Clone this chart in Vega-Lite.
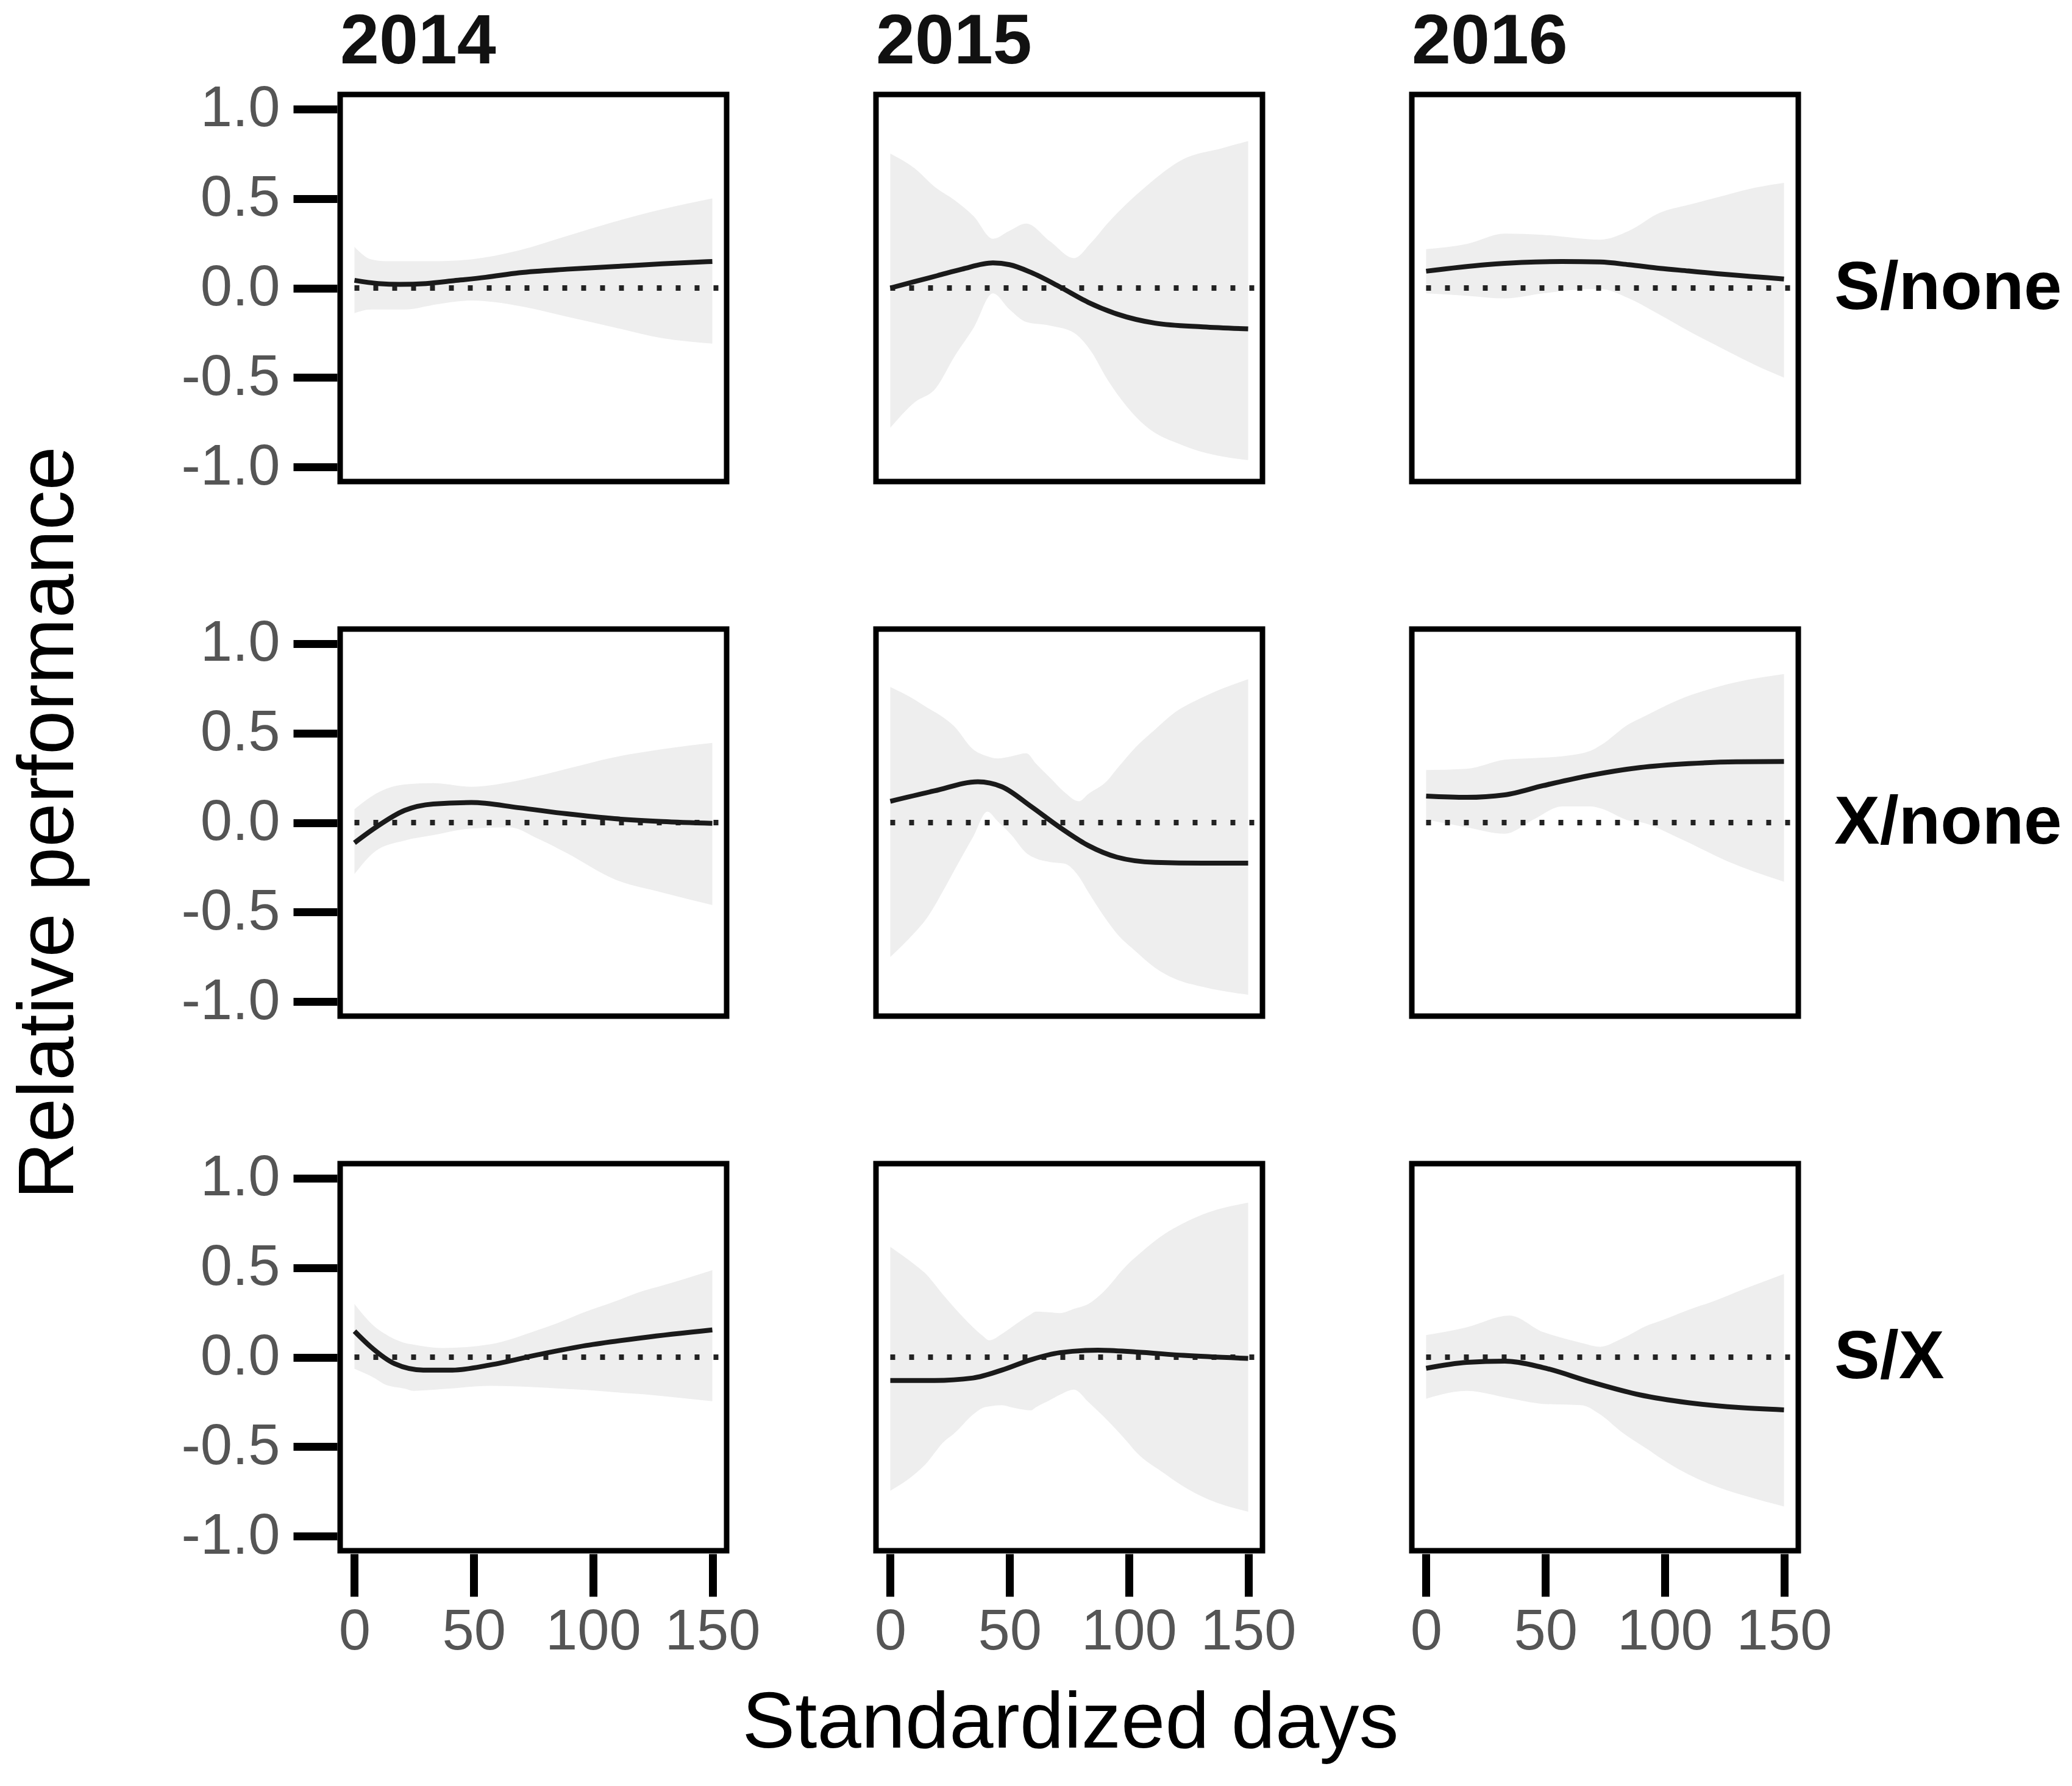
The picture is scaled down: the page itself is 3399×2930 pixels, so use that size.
{
  "$schema": "https://vega.github.io/schema/vega-lite/v6.json",
  "background": "white",
  "padding": {"left": 15, "top": 12, "right": 20, "bottom": 20},
  "data": {
    "values": [
      {"r": "S/none", "c": "2014", "x": 0, "lo": -0.14, "hi": 0.23},
      {"r": "S/none", "c": "2014", "x": 7, "lo": -0.12, "hi": 0.16},
      {"r": "S/none", "c": "2014", "x": 13, "lo": -0.12, "hi": 0.15},
      {"r": "S/none", "c": "2014", "x": 21, "lo": -0.12, "hi": 0.15},
      {"r": "S/none", "c": "2014", "x": 35, "lo": -0.09, "hi": 0.15},
      {"r": "S/none", "c": "2014", "x": 49, "lo": -0.07, "hi": 0.16},
      {"r": "S/none", "c": "2014", "x": 69, "lo": -0.10, "hi": 0.21},
      {"r": "S/none", "c": "2014", "x": 89, "lo": -0.16, "hi": 0.29},
      {"r": "S/none", "c": "2014", "x": 109, "lo": -0.22, "hi": 0.37},
      {"r": "S/none", "c": "2014", "x": 129, "lo": -0.28, "hi": 0.44},
      {"r": "S/none", "c": "2014", "x": 150, "lo": -0.31, "hi": 0.50},
      {"r": "S/none", "c": "2014", "x": 0, "y": 0.043},
      {"r": "S/none", "c": "2014", "x": 10, "y": 0.025},
      {"r": "S/none", "c": "2014", "x": 19, "y": 0.02},
      {"r": "S/none", "c": "2014", "x": 30, "y": 0.025},
      {"r": "S/none", "c": "2014", "x": 41, "y": 0.04},
      {"r": "S/none", "c": "2014", "x": 55, "y": 0.06},
      {"r": "S/none", "c": "2014", "x": 69, "y": 0.085},
      {"r": "S/none", "c": "2014", "x": 89, "y": 0.105},
      {"r": "S/none", "c": "2014", "x": 109, "y": 0.12},
      {"r": "S/none", "c": "2014", "x": 129, "y": 0.135},
      {"r": "S/none", "c": "2014", "x": 150, "y": 0.148},

      {"r": "S/none", "c": "2015", "x": 0, "lo": -0.78, "hi": 0.75},
      {"r": "S/none", "c": "2015", "x": 10, "lo": -0.64, "hi": 0.67},
      {"r": "S/none", "c": "2015", "x": 19, "lo": -0.56, "hi": 0.56},
      {"r": "S/none", "c": "2015", "x": 27, "lo": -0.38, "hi": 0.49},
      {"r": "S/none", "c": "2015", "x": 35, "lo": -0.22, "hi": 0.40},
      {"r": "S/none", "c": "2015", "x": 43, "lo": -0.03, "hi": 0.275},
      {"r": "S/none", "c": "2015", "x": 50, "lo": -0.12, "hi": 0.32},
      {"r": "S/none", "c": "2015", "x": 57, "lo": -0.19, "hi": 0.36},
      {"r": "S/none", "c": "2015", "x": 67, "lo": -0.21, "hi": 0.26},
      {"r": "S/none", "c": "2015", "x": 77, "lo": -0.25, "hi": 0.167},
      {"r": "S/none", "c": "2015", "x": 84, "lo": -0.35, "hi": 0.25},
      {"r": "S/none", "c": "2015", "x": 91, "lo": -0.51, "hi": 0.36},
      {"r": "S/none", "c": "2015", "x": 107, "lo": -0.77, "hi": 0.565},
      {"r": "S/none", "c": "2015", "x": 123, "lo": -0.88, "hi": 0.72},
      {"r": "S/none", "c": "2015", "x": 139, "lo": -0.94, "hi": 0.78},
      {"r": "S/none", "c": "2015", "x": 150, "lo": -0.96, "hi": 0.82},
      {"r": "S/none", "c": "2015", "x": 0, "y": 0.0},
      {"r": "S/none", "c": "2015", "x": 10, "y": 0.035},
      {"r": "S/none", "c": "2015", "x": 20, "y": 0.07},
      {"r": "S/none", "c": "2015", "x": 30, "y": 0.105},
      {"r": "S/none", "c": "2015", "x": 43, "y": 0.14},
      {"r": "S/none", "c": "2015", "x": 50, "y": 0.13},
      {"r": "S/none", "c": "2015", "x": 59, "y": 0.087},
      {"r": "S/none", "c": "2015", "x": 71, "y": 0.007},
      {"r": "S/none", "c": "2015", "x": 83, "y": -0.08},
      {"r": "S/none", "c": "2015", "x": 95, "y": -0.145},
      {"r": "S/none", "c": "2015", "x": 111, "y": -0.196},
      {"r": "S/none", "c": "2015", "x": 131, "y": -0.217},
      {"r": "S/none", "c": "2015", "x": 150, "y": -0.228},

      {"r": "S/none", "c": "2016", "x": 0, "lo": -0.03, "hi": 0.217},
      {"r": "S/none", "c": "2016", "x": 17, "lo": -0.043, "hi": 0.246},
      {"r": "S/none", "c": "2016", "x": 33, "lo": -0.058, "hi": 0.304},
      {"r": "S/none", "c": "2016", "x": 49, "lo": -0.03, "hi": 0.297},
      {"r": "S/none", "c": "2016", "x": 62, "lo": -0.01, "hi": 0.28},
      {"r": "S/none", "c": "2016", "x": 73, "lo": -0.005, "hi": 0.27},
      {"r": "S/none", "c": "2016", "x": 85, "lo": -0.058, "hi": 0.319},
      {"r": "S/none", "c": "2016", "x": 98, "lo": -0.15, "hi": 0.42},
      {"r": "S/none", "c": "2016", "x": 110, "lo": -0.24, "hi": 0.464},
      {"r": "S/none", "c": "2016", "x": 126, "lo": -0.35, "hi": 0.52},
      {"r": "S/none", "c": "2016", "x": 138, "lo": -0.43, "hi": 0.56},
      {"r": "S/none", "c": "2016", "x": 150, "lo": -0.5, "hi": 0.587},
      {"r": "S/none", "c": "2016", "x": 0, "y": 0.094},
      {"r": "S/none", "c": "2016", "x": 25, "y": 0.13},
      {"r": "S/none", "c": "2016", "x": 40, "y": 0.143},
      {"r": "S/none", "c": "2016", "x": 57, "y": 0.148},
      {"r": "S/none", "c": "2016", "x": 73, "y": 0.145},
      {"r": "S/none", "c": "2016", "x": 85, "y": 0.13},
      {"r": "S/none", "c": "2016", "x": 98, "y": 0.11},
      {"r": "S/none", "c": "2016", "x": 110, "y": 0.095},
      {"r": "S/none", "c": "2016", "x": 122, "y": 0.08},
      {"r": "S/none", "c": "2016", "x": 136, "y": 0.065},
      {"r": "S/none", "c": "2016", "x": 150, "y": 0.05},

      {"r": "X/none", "c": "2014", "x": 0, "lo": -0.287, "hi": 0.075},
      {"r": "X/none", "c": "2014", "x": 9, "lo": -0.157, "hi": 0.162},
      {"r": "X/none", "c": "2014", "x": 21, "lo": -0.10, "hi": 0.213},
      {"r": "X/none", "c": "2014", "x": 33, "lo": -0.07, "hi": 0.22},
      {"r": "X/none", "c": "2014", "x": 49, "lo": -0.033, "hi": 0.20},
      {"r": "X/none", "c": "2014", "x": 65, "lo": -0.026, "hi": 0.225},
      {"r": "X/none", "c": "2014", "x": 77, "lo": -0.09, "hi": 0.26},
      {"r": "X/none", "c": "2014", "x": 89, "lo": -0.17, "hi": 0.30},
      {"r": "X/none", "c": "2014", "x": 109, "lo": -0.316, "hi": 0.365},
      {"r": "X/none", "c": "2014", "x": 129, "lo": -0.39, "hi": 0.41},
      {"r": "X/none", "c": "2014", "x": 150, "lo": -0.46, "hi": 0.445},
      {"r": "X/none", "c": "2014", "x": 0, "y": -0.113},
      {"r": "X/none", "c": "2014", "x": 9, "y": -0.026},
      {"r": "X/none", "c": "2014", "x": 21, "y": 0.068},
      {"r": "X/none", "c": "2014", "x": 33, "y": 0.104},
      {"r": "X/none", "c": "2014", "x": 49, "y": 0.112},
      {"r": "X/none", "c": "2014", "x": 69, "y": 0.083},
      {"r": "X/none", "c": "2014", "x": 89, "y": 0.049},
      {"r": "X/none", "c": "2014", "x": 109, "y": 0.022},
      {"r": "X/none", "c": "2014", "x": 129, "y": 0.006},
      {"r": "X/none", "c": "2014", "x": 150, "y": -0.004},

      {"r": "X/none", "c": "2015", "x": 0, "lo": -0.75, "hi": 0.757},
      {"r": "X/none", "c": "2015", "x": 10.5, "lo": -0.61, "hi": 0.684},
      {"r": "X/none", "c": "2015", "x": 14.5, "lo": -0.548, "hi": 0.65},
      {"r": "X/none", "c": "2015", "x": 22.6, "lo": -0.37, "hi": 0.583},
      {"r": "X/none", "c": "2015", "x": 26.6, "lo": -0.272, "hi": 0.54},
      {"r": "X/none", "c": "2015", "x": 34.7, "lo": -0.08, "hi": 0.409},
      {"r": "X/none", "c": "2015", "x": 40.7, "lo": 0.061, "hi": 0.37},
      {"r": "X/none", "c": "2015", "x": 44.8, "lo": 0.01, "hi": 0.358},
      {"r": "X/none", "c": "2015", "x": 50.8, "lo": -0.07, "hi": 0.37},
      {"r": "X/none", "c": "2015", "x": 57, "lo": -0.17, "hi": 0.387},
      {"r": "X/none", "c": "2015", "x": 61, "lo": -0.2, "hi": 0.33},
      {"r": "X/none", "c": "2015", "x": 67, "lo": -0.22, "hi": 0.25},
      {"r": "X/none", "c": "2015", "x": 73, "lo": -0.229, "hi": 0.17},
      {"r": "X/none", "c": "2015", "x": 79, "lo": -0.30, "hi": 0.119},
      {"r": "X/none", "c": "2015", "x": 83, "lo": -0.388, "hi": 0.16},
      {"r": "X/none", "c": "2015", "x": 91, "lo": -0.55, "hi": 0.235},
      {"r": "X/none", "c": "2015", "x": 95, "lo": -0.62, "hi": 0.30},
      {"r": "X/none", "c": "2015", "x": 103, "lo": -0.72, "hi": 0.423},
      {"r": "X/none", "c": "2015", "x": 111, "lo": -0.81, "hi": 0.52},
      {"r": "X/none", "c": "2015", "x": 119, "lo": -0.87, "hi": 0.612},
      {"r": "X/none", "c": "2015", "x": 131, "lo": -0.917, "hi": 0.70},
      {"r": "X/none", "c": "2015", "x": 150, "lo": -0.961, "hi": 0.80},
      {"r": "X/none", "c": "2015", "x": 0, "y": 0.119},
      {"r": "X/none", "c": "2015", "x": 18.5, "y": 0.177},
      {"r": "X/none", "c": "2015", "x": 36.7, "y": 0.228},
      {"r": "X/none", "c": "2015", "x": 46.8, "y": 0.2},
      {"r": "X/none", "c": "2015", "x": 59, "y": 0.09},
      {"r": "X/none", "c": "2015", "x": 71, "y": -0.026},
      {"r": "X/none", "c": "2015", "x": 83, "y": -0.128},
      {"r": "X/none", "c": "2015", "x": 95, "y": -0.193},
      {"r": "X/none", "c": "2015", "x": 111, "y": -0.222},
      {"r": "X/none", "c": "2015", "x": 131, "y": -0.226},
      {"r": "X/none", "c": "2015", "x": 150, "y": -0.226},

      {"r": "X/none", "c": "2016", "x": 0, "lo": 0.017, "hi": 0.293},
      {"r": "X/none", "c": "2016", "x": 17, "lo": -0.026, "hi": 0.30},
      {"r": "X/none", "c": "2016", "x": 33, "lo": -0.062, "hi": 0.351},
      {"r": "X/none", "c": "2016", "x": 45, "lo": 0.017, "hi": 0.36},
      {"r": "X/none", "c": "2016", "x": 57, "lo": 0.09, "hi": 0.37},
      {"r": "X/none", "c": "2016", "x": 69, "lo": 0.09, "hi": 0.401},
      {"r": "X/none", "c": "2016", "x": 73, "lo": 0.08, "hi": 0.43},
      {"r": "X/none", "c": "2016", "x": 85.5, "lo": 0.01, "hi": 0.554},
      {"r": "X/none", "c": "2016", "x": 89.5, "lo": 0.003, "hi": 0.58},
      {"r": "X/none", "c": "2016", "x": 105.6, "lo": -0.084, "hi": 0.684},
      {"r": "X/none", "c": "2016", "x": 126, "lo": -0.214, "hi": 0.771},
      {"r": "X/none", "c": "2016", "x": 150, "lo": -0.33, "hi": 0.829},
      {"r": "X/none", "c": "2016", "x": 0, "y": 0.148},
      {"r": "X/none", "c": "2016", "x": 17, "y": 0.141},
      {"r": "X/none", "c": "2016", "x": 33, "y": 0.155},
      {"r": "X/none", "c": "2016", "x": 49, "y": 0.206},
      {"r": "X/none", "c": "2016", "x": 69, "y": 0.264},
      {"r": "X/none", "c": "2016", "x": 89.5, "y": 0.307},
      {"r": "X/none", "c": "2016", "x": 110, "y": 0.329},
      {"r": "X/none", "c": "2016", "x": 130, "y": 0.339},
      {"r": "X/none", "c": "2016", "x": 150, "y": 0.341},

      {"r": "S/X", "c": "2014", "x": 0, "lo": -0.065, "hi": 0.297},
      {"r": "S/X", "c": "2014", "x": 8.8, "lo": -0.12, "hi": 0.167},
      {"r": "S/X", "c": "2014", "x": 12.8, "lo": -0.152, "hi": 0.13},
      {"r": "S/X", "c": "2014", "x": 20.9, "lo": -0.175, "hi": 0.08},
      {"r": "S/X", "c": "2014", "x": 24.9, "lo": -0.188, "hi": 0.07},
      {"r": "S/X", "c": "2014", "x": 36.9, "lo": -0.178, "hi": 0.051},
      {"r": "S/X", "c": "2014", "x": 57, "lo": -0.16, "hi": 0.072},
      {"r": "S/X", "c": "2014", "x": 77, "lo": -0.168, "hi": 0.152},
      {"r": "S/X", "c": "2014", "x": 85, "lo": -0.174, "hi": 0.19},
      {"r": "S/X", "c": "2014", "x": 97, "lo": -0.183, "hi": 0.254},
      {"r": "S/X", "c": "2014", "x": 109, "lo": -0.196, "hi": 0.31},
      {"r": "S/X", "c": "2014", "x": 121, "lo": -0.207, "hi": 0.37},
      {"r": "S/X", "c": "2014", "x": 129, "lo": -0.217, "hi": 0.40},
      {"r": "S/X", "c": "2014", "x": 150, "lo": -0.246, "hi": 0.486},
      {"r": "S/X", "c": "2014", "x": 0, "y": 0.145},
      {"r": "S/X", "c": "2014", "x": 6.8, "y": 0.058},
      {"r": "S/X", "c": "2014", "x": 16.8, "y": -0.036},
      {"r": "S/X", "c": "2014", "x": 28.9, "y": -0.072},
      {"r": "S/X", "c": "2014", "x": 41, "y": -0.072},
      {"r": "S/X", "c": "2014", "x": 57, "y": -0.043},
      {"r": "S/X", "c": "2014", "x": 77, "y": 0.014},
      {"r": "S/X", "c": "2014", "x": 97, "y": 0.065},
      {"r": "S/X", "c": "2014", "x": 121, "y": 0.109},
      {"r": "S/X", "c": "2014", "x": 150, "y": 0.152},

      {"r": "S/X", "c": "2015", "x": 0, "lo": -0.746, "hi": 0.616},
      {"r": "S/X", "c": "2015", "x": 10.5, "lo": -0.65, "hi": 0.514},
      {"r": "S/X", "c": "2015", "x": 14.5, "lo": -0.601, "hi": 0.47},
      {"r": "S/X", "c": "2015", "x": 22.6, "lo": -0.47, "hi": 0.341},
      {"r": "S/X", "c": "2015", "x": 26.6, "lo": -0.428, "hi": 0.28},
      {"r": "S/X", "c": "2015", "x": 34.7, "lo": -0.32, "hi": 0.167},
      {"r": "S/X", "c": "2015", "x": 38.7, "lo": -0.283, "hi": 0.12},
      {"r": "S/X", "c": "2015", "x": 41.5, "lo": -0.275, "hi": 0.094},
      {"r": "S/X", "c": "2015", "x": 46.8, "lo": -0.268, "hi": 0.13},
      {"r": "S/X", "c": "2015", "x": 50.8, "lo": -0.28, "hi": 0.167},
      {"r": "S/X", "c": "2015", "x": 59, "lo": -0.297, "hi": 0.24},
      {"r": "S/X", "c": "2015", "x": 61, "lo": -0.28, "hi": 0.254},
      {"r": "S/X", "c": "2015", "x": 67, "lo": -0.239, "hi": 0.25},
      {"r": "S/X", "c": "2015", "x": 71, "lo": -0.21, "hi": 0.246},
      {"r": "S/X", "c": "2015", "x": 77, "lo": -0.181, "hi": 0.27},
      {"r": "S/X", "c": "2015", "x": 83, "lo": -0.25, "hi": 0.297},
      {"r": "S/X", "c": "2015", "x": 89, "lo": -0.326, "hi": 0.36},
      {"r": "S/X", "c": "2015", "x": 99.2, "lo": -0.47, "hi": 0.514},
      {"r": "S/X", "c": "2015", "x": 103, "lo": -0.529, "hi": 0.56},
      {"r": "S/X", "c": "2015", "x": 115, "lo": -0.65, "hi": 0.688},
      {"r": "S/X", "c": "2015", "x": 119, "lo": -0.688, "hi": 0.72},
      {"r": "S/X", "c": "2015", "x": 131, "lo": -0.78, "hi": 0.797},
      {"r": "S/X", "c": "2015", "x": 150, "lo": -0.862, "hi": 0.862},
      {"r": "S/X", "c": "2015", "x": 0, "y": -0.13},
      {"r": "S/X", "c": "2015", "x": 18.5, "y": -0.13},
      {"r": "S/X", "c": "2015", "x": 34.7, "y": -0.116},
      {"r": "S/X", "c": "2015", "x": 46.8, "y": -0.072},
      {"r": "S/X", "c": "2015", "x": 59, "y": -0.014},
      {"r": "S/X", "c": "2015", "x": 71, "y": 0.025},
      {"r": "S/X", "c": "2015", "x": 87, "y": 0.039},
      {"r": "S/X", "c": "2015", "x": 103, "y": 0.029},
      {"r": "S/X", "c": "2015", "x": 123, "y": 0.01},
      {"r": "S/X", "c": "2015", "x": 150, "y": -0.007},

      {"r": "S/X", "c": "2016", "x": 0, "lo": -0.232, "hi": 0.123},
      {"r": "S/X", "c": "2016", "x": 17, "lo": -0.188, "hi": 0.167},
      {"r": "S/X", "c": "2016", "x": 35, "lo": -0.23, "hi": 0.232},
      {"r": "S/X", "c": "2016", "x": 49, "lo": -0.261, "hi": 0.14},
      {"r": "S/X", "c": "2016", "x": 53, "lo": -0.263, "hi": 0.123},
      {"r": "S/X", "c": "2016", "x": 65, "lo": -0.268, "hi": 0.08},
      {"r": "S/X", "c": "2016", "x": 73, "lo": -0.32, "hi": 0.058},
      {"r": "S/X", "c": "2016", "x": 81.5, "lo": -0.413, "hi": 0.10},
      {"r": "S/X", "c": "2016", "x": 93.5, "lo": -0.52, "hi": 0.181},
      {"r": "S/X", "c": "2016", "x": 97.6, "lo": -0.558, "hi": 0.20},
      {"r": "S/X", "c": "2016", "x": 114, "lo": -0.68, "hi": 0.283},
      {"r": "S/X", "c": "2016", "x": 118, "lo": -0.703, "hi": 0.30},
      {"r": "S/X", "c": "2016", "x": 134, "lo": -0.775, "hi": 0.384},
      {"r": "S/X", "c": "2016", "x": 150, "lo": -0.833, "hi": 0.464},
      {"r": "S/X", "c": "2016", "x": 0, "y": -0.062},
      {"r": "S/X", "c": "2016", "x": 17, "y": -0.029},
      {"r": "S/X", "c": "2016", "x": 33, "y": -0.022},
      {"r": "S/X", "c": "2016", "x": 49, "y": -0.058},
      {"r": "S/X", "c": "2016", "x": 69, "y": -0.138},
      {"r": "S/X", "c": "2016", "x": 89.5, "y": -0.21},
      {"r": "S/X", "c": "2016", "x": 110, "y": -0.254},
      {"r": "S/X", "c": "2016", "x": 130, "y": -0.28},
      {"r": "S/X", "c": "2016", "x": 150, "y": -0.294}
    ]
  },
  "facet": {
    "row": {
      "field": "r", "type": "nominal", "sort": ["S/none", "X/none", "S/X"], "title": "Relative performance",
      "header": {"labelOrient": "right", "labelAngle": 0, "labelPadding": 50,
                 "labelFontSize": 112, "labelFontWeight": "bold", "labelColor": "black",
                 "titleOrient": "left", "titleAngle": -90, "titleFontSize": 130, "titleFontWeight": "normal",
                 "titleColor": "black", "titlePadding": 10}
    },
    "column": {
      "field": "c", "type": "nominal", "sort": ["2014", "2015", "2016"], "title": "Standardized days",
      "header": {"labelOrient": "top", "labelAnchor": "start", "labelAlign": "left", "labelPadding": 22,
                 "labelExpr": "'\u2009' + datum.label",
                 "labelFontSize": 115, "labelFontWeight": "bold", "labelColor": "#111",
                 "titleOrient": "bottom", "titleFontSize": 130, "titleFontWeight": "normal",
                 "titleColor": "black", "titlePadding": 30}
    }
  },
  "spacing": {"row": 232, "column": 231},
  "spec": {
    "width": 634,
    "height": 635,
    "layer": [
      {
        "transform": [{"filter": "isValid(datum.lo)"}],
        "mark": {"type": "area", "color": "#eeeeee", "interpolate": "monotone"},
        "encoding": {
          "x": {"field": "x", "type": "quantitative", "scale": {"domain": [-6, 156], "nice": false, "zero": false},
                "axis": {"values": [0, 50, 100, 150], "title": null, "tickSize": 70, "labelPadding": 12}},
          "y": {"field": "hi", "type": "quantitative", "scale": {"domain": [-1.08, 1.08], "nice": false, "zero": false},
                "axis": {"values": [-1, -0.5, 0, 0.5, 1], "title": null, "tickSize": 72, "labelPadding": 22,
                         "labelExpr": "(datum.value < 0 ? '-' : '') + format(abs(datum.value), '.1f')"}},
          "y2": {"field": "lo"}
        }
      },
      {
        "transform": [{"filter": "isValid(datum.y) && datum.x == 0"}],
        "mark": {"type": "rule", "color": "#222222", "strokeWidth": 9, "strokeDash": [8, 23]},
        "encoding": {
          "x": {"datum": 0},
          "x2": {"datum": 156},
          "y": {"datum": 0}
        }
      },
      {
        "transform": [{"filter": "isValid(datum.y)"}],
        "mark": {"type": "line", "color": "#1a1a1a", "strokeWidth": 8, "interpolate": "monotone"},
        "encoding": {
          "x": {"field": "x", "type": "quantitative"},
          "y": {"field": "y", "type": "quantitative"}
        }
      }
    ]
  },
  "config": {
    "font": "Liberation Sans",
    "view": {"stroke": "black", "strokeWidth": 9},
    "axis": {
      "domain": false, "grid": false, "tickColor": "black", "tickWidth": 13,
      "labelFontSize": 94, "labelColor": "#555555", "labelFlush": false, "labelOverlap": false
    },
    "header": {"labelFont": "Liberation Sans", "titleFont": "Liberation Sans"}
  }
}
